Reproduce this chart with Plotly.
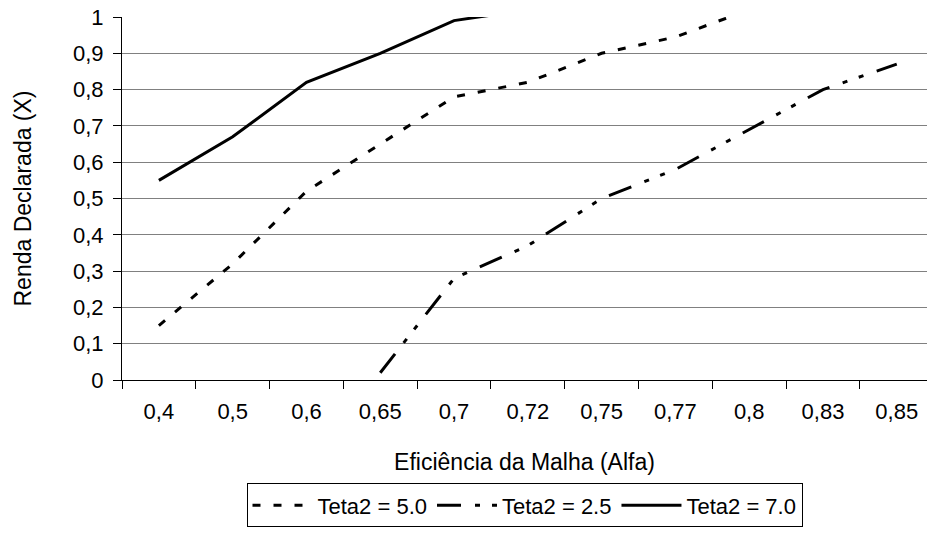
import plotly.graph_objects as go

# Mesh efficiency (alpha) categories shown on the x axis
alfa = ["0,4", "0,5", "0,6", "0,65", "0,7", "0,72", "0,75", "0,77", "0,8", "0,83", "0,85"]

# Declared income X for each theta2 curve (None = no value at that alpha;
# values slightly above 1 run off the top of the axis)
teta2_5_0 = [0.15, 0.32, 0.52, 0.65, 0.78, 0.82, 0.90, 0.945, 1.02, None, None]
teta2_2_5 = [None, None, None, 0.02, 0.28, 0.37, 0.50, 0.58, 0.69, 0.80, 0.87]
teta2_7_0 = [0.55, 0.67, 0.82, 0.90, 0.99, 1.02, None, None, None, None, None]

y_ticks = [round(0.1 * i, 1) for i in range(11)]

FONT = "Liberation Sans, Arial, sans-serif"

fig = go.Figure()
fig.add_trace(go.Scatter(
    x=alfa, y=teta2_5_0, mode="lines", name="Teta2 = 5.0",
    line=dict(color="black", width=3, dash="8px,13px"),
))
fig.add_trace(go.Scatter(
    x=alfa, y=teta2_2_5, mode="lines", name="Teta2 = 2.5",
    line=dict(color="black", width=3, dash="24px,14px,5px,12px,5px,14px"),
))
fig.add_trace(go.Scatter(
    x=alfa, y=teta2_7_0, mode="lines", name="Teta2 = 7.0",
    line=dict(color="black", width=3),
))

fig.update_layout(
    width=927, height=535,
    margin=dict(l=122, r=0, t=17, b=155),
    paper_bgcolor="white", plot_bgcolor="white",
    separators=", ",
    font=dict(family=FONT, size=22, color="black"),
    showlegend=True,
    legend=dict(
        orientation="h", x=0.5, xanchor="center", y=-0.285, yanchor="top",
        bordercolor="black", borderwidth=1, bgcolor="white",
        font=dict(family=FONT, size=22), itemwidth=60, tracegroupgap=0,
    ),
)

fig.update_xaxes(
    type="category", range=[-0.5, 10.41],
    tickson="boundaries", ticks="outside", ticklen=8, tickcolor="black",
    showline=True, linecolor="black", linewidth=1,
    showgrid=False, zeroline=False,
    ticklabelstandoff=12,
    title=dict(text="Eficiência da Malha (Alfa)", font=dict(size=23), standoff=30),
)

fig.update_yaxes(
    range=[0, 1], tickvals=y_ticks,
    ticks="outside", ticklen=8, tickcolor="black",
    showline=True, linecolor="black", linewidth=1,
    showgrid=True, gridcolor="#808080", gridwidth=1, zeroline=False,
    ticklabelstandoff=5,
    title=dict(text="Renda Declarada (X)", font=dict(size=23), standoff=34),
)

fig.write_html("out.html")
